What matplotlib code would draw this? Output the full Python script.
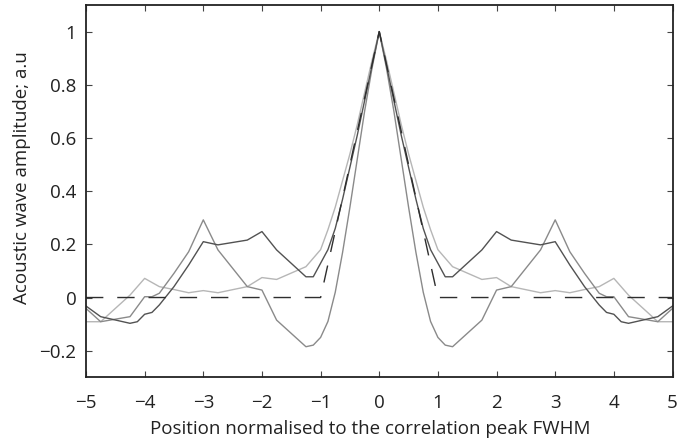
import matplotlib
matplotlib.use("Agg")
import matplotlib.pyplot as plt
from matplotlib.ticker import FuncFormatter

# ---- data ----
dark_x = [-5, -4.75, -4.25, -4.125, -4, -3.875, -3.75, -3.5, -3.25, -3, -2.75, -2.25, -2, -1.75,
          -1.25, -1.125, -0.875, -0.75, -0.625, -0.5, -0.375, -0.25, -0.125, 0,
          0.125, 0.25, 0.375, 0.5, 0.625, 0.75, 0.875, 1.125, 1.25, 1.75, 2, 2.25, 2.75, 3,
          3.25, 3.5, 3.75, 3.875, 4, 4.125, 4.25, 4.75, 5]
dark_y = [-0.032, -0.072, -0.097, -0.091, -0.063, -0.056, -0.028, 0.041, 0.122, 0.210, 0.198, 0.216, 0.248, 0.179,
          0.078, 0.078, 0.18, 0.26, 0.37, 0.49, 0.61, 0.74, 0.87, 1.0,
          0.87, 0.74, 0.61, 0.49, 0.37, 0.26, 0.18, 0.078, 0.078, 0.179, 0.248, 0.216, 0.198, 0.210,
          0.122, 0.041, -0.028, -0.056, -0.063, -0.091, -0.097, -0.072, -0.032]

mid_x = [-5, -4.75, -4.25, -4, -3.875, -3.75, -3.5, -3.25, -3, -2.75, -2.25, -2, -1.75,
         -1.25, -1.125, -1, -0.875, -0.75, -0.625, -0.5, -0.375, -0.25, -0.125, 0,
         0.125, 0.25, 0.375, 0.5, 0.625, 0.75, 0.875, 1, 1.125, 1.25,
         1.75, 2, 2.25, 2.75, 3, 3.25, 3.5, 3.75, 3.875, 4, 4.25, 4.75, 5]
mid_y = [-0.041, -0.091, -0.072, 0.003, 0.003, 0.016, 0.091, 0.172, 0.292, 0.179, 0.041, 0.028, -0.085,
         -0.185, -0.179, -0.15, -0.09, 0.02, 0.17, 0.34, 0.52, 0.70, 0.86, 1.0,
         0.86, 0.70, 0.52, 0.34, 0.17, 0.02, -0.09, -0.15, -0.179, -0.185,
         -0.085, 0.028, 0.041, 0.179, 0.292, 0.172, 0.091, 0.016, 0.003, 0.003, -0.072, -0.091, -0.041]

light_x = [-5, -4.75, -4.25, -4, -3.75, -3.5, -3.25, -3, -2.75, -2.25, -2, -1.75, -1.25,
           -1, -0.875, -0.75, -0.625, -0.5, -0.375, -0.25, -0.125, 0,
           0.125, 0.25, 0.375, 0.5, 0.625, 0.75, 0.875, 1,
           1.25, 1.75, 2, 2.25, 2.75, 3, 3.25, 3.5, 3.75, 4, 4.25, 4.75, 5]
light_y = [-0.091, -0.091, 0.009, 0.072, 0.041, 0.030, 0.018, 0.026, 0.018, 0.041, 0.075, 0.068, 0.116,
           0.18, 0.255, 0.34, 0.44, 0.54, 0.65, 0.77, 0.89, 1.0,
           0.89, 0.77, 0.65, 0.54, 0.44, 0.34, 0.255, 0.18,
           0.116, 0.068, 0.075, 0.041, 0.018, 0.026, 0.018, 0.030, 0.041, 0.072, 0.009, -0.091, -0.091]

ideal_x = [-5, -1, 0, 1, 5]
ideal_y = [0, 0, 1, 0, 0]

x_ticks = [-5, -4, -3, -2, -1, 0, 1, 2, 3, 4, 5]
y_ticks = [-0.2, 0, 0.2, 0.4, 0.6, 0.8, 1]
x_label = "Position normalised to the correlation peak FWHM"
y_label = "Acoustic wave amplitude; a.u"

# ---- figure ----
plt.rcParams['font.family'] = ['Open Sans', 'DejaVu Sans']
fig = plt.figure(figsize=(6.77, 4.41), dpi=100)
ax = fig.add_axes([86/677, 1-377.3/441, (672.5-86)/677, (377.3-5)/441])

ax.plot(light_x, light_y, color='#b6b6b6', lw=1.0)
ax.plot(mid_x, mid_y, color='#8a8a8a', lw=1.0)
ax.plot(dark_x, dark_y, color='#525252', lw=1.0)
ax.plot(ideal_x, ideal_y, color='#2e2e2e', lw=1.0, dashes=(12.5, 10))

ax.set_xlim(-5, 5)
ax.set_ylim(-0.3, 1.1)
ax.set_xticks(x_ticks)
ax.set_yticks(y_ticks)
fmt = FuncFormatter(lambda v, p: ("%g" % v).replace('-', '\u2212'))
ax.xaxis.set_major_formatter(fmt)
ax.yaxis.set_major_formatter(fmt)
ax.tick_params(direction='in', length=4, width=0.8, color='#444444',
               top=True, right=True, labelsize=13.5, labelcolor='#222222')
ax.tick_params(axis='x', pad=12)
ax.tick_params(axis='y', pad=7)
for s in ax.spines.values():
    s.set_linewidth(1.3)
    s.set_color('#222222')

ax.set_xlabel(x_label, fontsize=13.5, color='#222222')
ax.set_ylabel(y_label, fontsize=13.5, color='#222222')
ax.xaxis.set_label_coords(0.485, -0.115)
ax.yaxis.set_label_coords(-0.094, 0.535)

fig.savefig("out.png", dpi=100)
